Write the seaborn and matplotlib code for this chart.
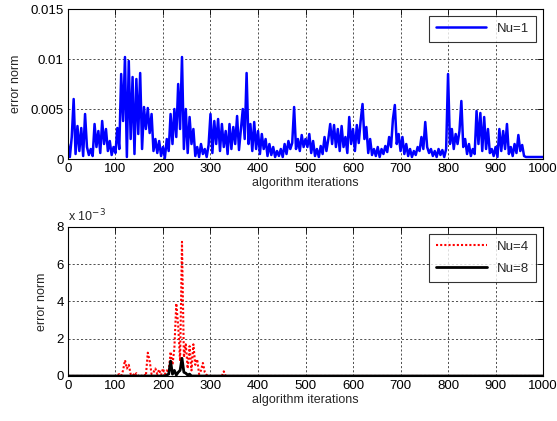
import numpy as np
import pandas as pd
import seaborn as sns
import matplotlib
matplotlib.use("Agg")
import matplotlib.pyplot as plt
from matplotlib.ticker import FuncFormatter

# top plot: Nu=1, read every 4 iterations (units of 1e-3)
iters_top = list(range(0, 1001, 4))
nu1 = [
    1.5, 0.2, 2.2, 6.0, 0.5, 3.3, 0.8, 3.1, 0.3, 4.5, 1.2, 0.4, 1.0, 0.3, 3.5, 1.2, 2.8, 0.6, 3.8, 1.5, 3.0, 0.8, 1.8, 0.4, 1.2,
    0.6, 3.1, 1.0, 8.5, 3.8, 10.2, 0.2, 9.8, 2.0, 8.2, 0.5, 8.0, 2.5, 8.6, 1.0, 5.2, 3.0, 5.1, 2.6, 4.5, 0.8, 2.0, 0.6, 1.8, 0.3,
    1.2, 0.1, 2.0, 0.8, 4.5, 1.5, 5.0, 2.2, 7.5, 3.0, 10.2, 1.0, 5.0, 0.6, 4.2, 1.5, 3.0, 0.3, 1.2, 0.2, 1.5, 0.5, 1.0, 0.2, 1.4,
    4.5, 0.6, 3.8, 1.5, 4.0, 0.8, 3.5, 1.2, 2.8, 0.5, 3.5, 1.0, 3.2, 1.5, 4.3, 0.9, 3.0, 5.0, 2.0, 8.6, 1.5, 3.5, 0.8, 3.7, 1.0,
    2.8, 0.5, 2.5, 1.0, 2.0, 0.3, 1.5, 0.4, 1.2, 0.2, 0.8, 0.3, 1.0, 0.2, 1.5, 0.5, 1.8, 1.0, 1.6, 5.2, 1.0, 2.0, 0.8, 2.4, 1.2,
    2.0, 1.2, 2.5, 0.6, 1.8, 0.3, 1.0, 0.2, 1.3, 0.5, 2.2, 0.8, 2.0, 3.5, 1.5, 3.4, 1.2, 3.0, 0.8, 3.3, 1.2, 2.2, 0.6, 4.2, 1.5,
    3.0, 0.8, 3.4, 1.6, 3.8, 5.5, 2.0, 3.2, 0.6, 2.0, 0.4, 1.0, 0.3, 1.2, 0.2, 1.0, 0.5, 1.3, 0.7, 2.2, 1.2, 4.0, 5.4, 1.5, 2.5,
    0.8, 2.2, 0.5, 1.5, 0.3, 1.0, 0.2, 0.8, 0.4, 1.2, 0.8, 2.2, 1.0, 3.7, 1.2, 0.6, 1.0, 0.3, 0.8, 0.2, 1.0, 0.4, 0.9, 0.2, 1.0,
    8.5, 1.5, 3.0, 1.0, 2.5, 1.5, 2.8, 5.8, 1.2, 2.0, 0.5, 1.5, 0.3, 1.0, 0.5, 4.8, 1.5, 4.6, 0.8, 4.2, 1.0, 3.0, 0.6, 1.0, 0.3,
    1.2, 0.2, 3.0, 0.8, 2.8, 1.0, 3.5, 0.5, 1.2, 0.3, 1.5, 0.6, 2.4, 0.8, 1.4, 0.3, 0.2, 0.2, 0.2, 0.2, 0.2, 0.2, 0.2, 0.2, 0.2,
    0.2,
]

# bottom plot: Nu=4 and Nu=8 (units of 1e-3), flat zero outside the listed window
iters_nu4 = [0] + list(range(100, 341, 4)) + [1000]
nu4 = [0,
       0, 0.05, 0.1, 0, 0.3, 0.85, 0.4, 0.6, 0.1, 0.15, 0, 0.15, 0, 0.05, 0, 0.1, 0, 1.25, 0.8, 0.1,
       0.2, 0.4, 0.1, 0.35, 0.05, 0.4, 0.1, 0.3, 0.2, 1.3, 0.6, 1.5, 3.9, 2.7, 0.8, 7.2, 1.0, 1.7, 0.4, 1.6,
       0.3, 1.7, 0.6, 0.9, 0.1, 0.3, 0.7, 0.2, 0.05, 0, 0, 0, 0, 0, 0, 0, 0, 0.25, 0, 0, 0,
       0]
iters_nu8 = [0] + list(range(200, 281, 4)) + [1000]
nu8 = [0,
       0, 0, 0.05, 0.1, 0.8, 0.1, 0.3, 0.05, 0.2, 0.3, 0.95, 0.2, 0.15, 0.05, 0.1, 0, 0, 0, 0, 0, 0,
       0]

sns.set_style("white")
plt.rcParams["font.family"] = ["Liberation Sans", "DejaVu Sans"]
plt.rcParams["font.size"] = 9

fig = plt.figure(figsize=(5.57, 4.21), dpi=100)
ax1 = fig.add_axes([0.122, 0.6223, 0.853, 0.3563])
ax2 = fig.add_axes([0.122, 0.1069, 0.853, 0.354])

top = pd.DataFrame({"it": iters_top, "err": np.array(nu1) * 1e-3})
sns.lineplot(data=top, x="it", y="err", ax=ax1, color="#0000ff", linewidth=1.8, label="Nu=1")

b4 = pd.DataFrame({"it": iters_nu4, "err": np.array(nu4) * 1e-3})
b8 = pd.DataFrame({"it": iters_nu8, "err": np.array(nu8) * 1e-3})
sns.lineplot(data=b4, x="it", y="err", ax=ax2, color="#ff0000", linewidth=1.5,
             linestyle=(0, (1, 1)), label="Nu=4")
sns.lineplot(data=b8, x="it", y="err", ax=ax2, color="black", linewidth=2, label="Nu=8")

ax1.set_ylim(0, 0.015)
ax1.set_yticks([0, 0.005, 0.01, 0.015])
ax1.set_yticklabels(["0", "0.005", "0.01", "0.015"])
ax2.set_ylim(0, 8e-3)
ax2.set_yticks([0, 2e-3, 4e-3, 6e-3, 8e-3])
ax2.yaxis.set_major_formatter(FuncFormatter(lambda v, p: "%g" % round(v * 1e3, 3)))
ax2.text(0.0, 1.015, r"x 10$^{-3}$", transform=ax2.transAxes, fontsize=9, va="bottom", ha="left")

for ax in (ax1, ax2):
    ax.set_xlim(0, 1000)
    ax.set_xticks(range(0, 1001, 100))
    ax.set_xlabel("algorithm iterations", fontsize=9, labelpad=1)
    ax.set_ylabel("error norm", fontsize=9, labelpad=6)
    ax.grid(True, color="#333333", linestyle=(0, (2.5, 2.5)), linewidth=0.6)
    ax.tick_params(direction="in", length=4, width=0.6, top=True, right=True,
                   labelsize=9.5, pad=3, colors="black")
    for s in ax.spines.values():
        s.set_visible(True)
        s.set_color("black")
        s.set_linewidth(0.8)
    leg = ax.legend(loc="upper right", fontsize=9.5, frameon=True, fancybox=False,
                    edgecolor="black", handlelength=3.8, borderaxespad=0.5,
                    borderpad=0.55, labelspacing=0.7)
    leg.get_frame().set_linewidth(0.8)

fig.savefig("out.png", dpi=100, facecolor="white")
